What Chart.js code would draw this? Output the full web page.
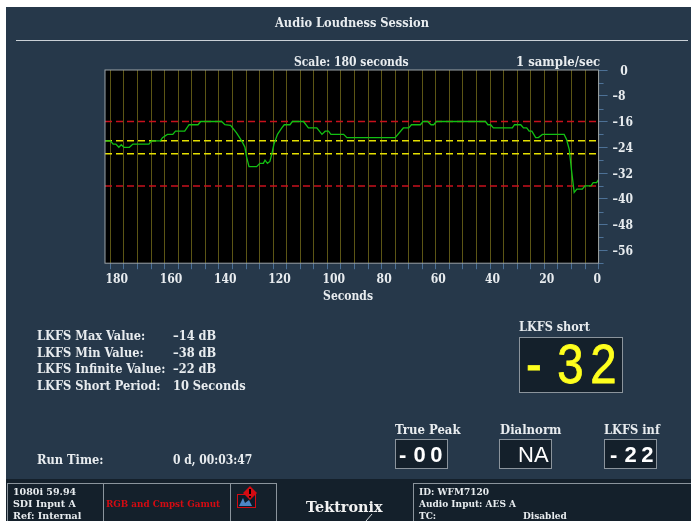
<!DOCTYPE html>
<html>
<head>
<meta charset="utf-8">
<title>Audio Loudness Session</title>
<script src="https://cdn.jsdelivr.net/npm/chart.js@4"></script>
<style>
  html, body { margin: 0; padding: 0; background: #fff; }
  #screen { position: relative; width: 691px; height: 521px; overflow: hidden; background: #fff;
    font-family: "DejaVu Serif Condensed", "DejaVu Serif", serif; font-weight: bold; color: #e8ecef; }
  #panel { position: absolute; left: 6px; top: 7px; width: 685px; height: 514px; background: #26384a; }
  #foot { position: absolute; left: 6px; top: 479px; width: 685px; height: 42px; background: #14202b; }
  canvas { position: absolute; left: 0; top: 0; }
  .t { position: absolute; white-space: nowrap; font-size: 12.7px; line-height: 14px; }
  .h { font-size: 13px; }
  .box { position: absolute; box-sizing: border-box; background: #14202b; border: 1px solid #8b949c; }
  .num { position: absolute; white-space: nowrap; font-family: "Liberation Sans", sans-serif; font-weight: normal; }
  .mid { top: 439px; font-size: 22px; line-height: 31px; font-weight: bold; color: #fff; letter-spacing: 4.5px; word-spacing: -8px; }
  .small { font-family: "DejaVu Serif", serif; font-size: 9.5px; line-height: 12px; }
  #rule { position: absolute; left: 16px; top: 40px; width: 672px; height: 1px; background: #c9d0d6; }
  svg { position: absolute; }
</style>
</head>
<body>
<div id="screen">
  <div id="panel"></div>
  <div id="foot"></div>
  <div id="rule"></div>
  <canvas id="chart" width="691" height="521"></canvas>

  <div class="t" style="left:275px;top:16px">Audio Loudness Session</div>
  <div class="t" style="left:294px;top:55px;font-size:12px">Scale: 180 seconds</div>
  <div class="t h" style="left:516px;top:55px">1 sample/sec</div>

  <div class="t" style="left:37px;top:329px">LKFS Max Value:</div>
  <div class="t" style="left:173px;top:329px">–14 dB</div>
  <div class="t" style="left:37px;top:346px">LKFS Min Value:</div>
  <div class="t" style="left:173px;top:346px">–38 dB</div>
  <div class="t" style="left:37px;top:362px">LKFS Infinite Value:</div>
  <div class="t" style="left:173px;top:362px">–22 dB</div>
  <div class="t" style="left:37px;top:379px">LKFS Short Period:</div>
  <div class="t" style="left:173px;top:379px">10 Seconds</div>
  <div class="t" style="left:37px;top:453px">Run Time:</div>
  <div class="t" style="left:173px;top:453px;font-size:12px">0 d, 00:03:47</div>

  <div class="t" style="left:519px;top:320px;font-size:12.5px">LKFS short</div>
  <div class="box" style="left:519px;top:337px;width:104px;height:56px"></div>
  <div class="num" style="left:526px;top:333px;font-size:55px;line-height:63px;color:#ffff1e;letter-spacing:7.8px;word-spacing:-13px;transform:scaleX(.86);transform-origin:left;-webkit-text-stroke:.8px #ffff1e">- 32</div>

  <div class="t h" style="left:395px;top:423px">True Peak</div>
  <div class="box" style="left:395px;top:439px;width:53px;height:30px"></div>
  <div class="num mid" style="left:399px">- 00</div>
  <div class="t h" style="left:500px;top:423px">Dialnorm</div>
  <div class="box" style="left:499px;top:439px;width:53px;height:30px"></div>
  <div class="num mid" style="left:518px;letter-spacing:0;font-weight:normal">NA</div>
  <div class="t h" style="left:604px;top:423px;font-size:12.7px">LKFS inf</div>
  <div class="box" style="left:604px;top:439px;width:53px;height:30px"></div>
  <div class="num mid" style="left:610px">- 22</div>

  <div class="box" style="left:7px;top:483px;width:97px;height:40px;background:none"></div>
  <div class="box" style="left:103px;top:483px;width:128px;height:40px;background:none"></div>
  <div class="box" style="left:230px;top:483px;width:47px;height:40px;background:none"></div>
  <div class="box" style="left:413px;top:483px;width:290px;height:40px;background:none"></div>
  <div class="t small" style="left:13px;top:486px">1080i 59.94<br>SDI Input A<br>Ref: Internal</div>
  <div class="t small" style="left:106px;top:498px;font-size:8.8px;color:#d40b12">RGB and Cmpst Gamut</div>
  <svg style="left:236px;top:485px" width="26" height="25" viewBox="0 0 26 25">
    <rect x="1.5" y="9.5" width="18" height="13" fill="#0c1a28" stroke="#d40b12"/>
    <path d="M3 21 L7 13 L9 18 L13 15 L16 21 Z" fill="#4d86c4"/>
    <path d="M14 1 L21 8 L14 15 L7 8 Z" fill="#d40b12"/>
    <path d="M14 4 V9 M14 11 V12.5" stroke="#000" stroke-width="2"/>
  </svg>
  <div class="t" style="left:306px;top:500px;font-family:'DejaVu Serif',serif;font-size:14.4px;color:#f2f2f2">Tektronix</div>
  <svg style="left:364px;top:513px" width="10" height="8"><line x1="8" y1="1" x2="2" y2="8" stroke="#d8dde0"/></svg>
  <div class="t small" style="left:419px;top:486px;font-size:9px">ID: WFM7120<br>Audio Input: AES A<br>TC:</div>
  <div class="t small" style="left:523px;top:510px;font-size:9px">Disabled</div>
</div>

<script>
const seconds = [182,180,179,178,176.9,176,175,173,171.7,165.8,164.9,161.6,160.8,159,157,156,152.6,151,147.7,146.7,139,137.8,135.7,133.5,131.6,130.4,129.8,128.9,126.1,124.9,123.6,123,122.1,121.2,120.4,119.7,118.4,116.8,115.9,113.8,112.9,108.8,107,103.9,102,100.8,99.6,98.7,94,92.8,75,72,70,69,65.7,64.7,63,61.8,60.8,59.8,41.7,40.8,39.8,38.8,31.8,31,28.7,27.7,26.5,25.6,24.6,23.2,22.2,20.7,12.7,11.8,10.8,10,9,8,6,5,2.8,2,0.7,0];
const lkfs = [-22,-22,-23,-23,-24,-23.2,-24,-24,-23,-23,-22,-22,-21,-20,-20,-19,-19,-17,-17,-16,-16,-17,-17.2,-19.5,-22,-24,-27,-30,-30,-29,-29,-28,-29,-28.4,-25.8,-23,-20,-18,-17,-17,-16,-16,-18,-18,-20,-19,-19,-20,-20,-21,-21,-18,-18,-17,-17,-16,-16,-17,-17,-16,-16,-17,-17,-18,-18,-17,-17,-18,-18,-19,-19,-21,-21,-20,-20,-21.6,-24.7,-31,-38,-37,-37,-36,-36,-35,-35,-34];
const limitsRed = [-16, -36];
const limitsYellow = [-22, -26];
const xTicks = [0,5,10,15,20,25,30,35,40,45,50,55,60,65,70,75,80,85,90,95,100,105,110,115,120,125,130,135,140,145,150,155,160,165,170,175,180];
const xLabels = [0,20,40,60,80,100,120,140,160,180];
const yTicks = [0,-8,-16,-24,-32,-40,-48,-56];
const yMinorTicks = [-4,-12,-20,-28,-36,-44,-52,-60];

const TICK = '#4d7196', TXT = '#e8ecef', FONT = '"DejaVu Serif Condensed", "DejaVu Serif", serif';

function limitLine(v, color) {
  return {
    data: [{ x: 182, y: v }, { x: 0, y: v }],
    borderColor: color, borderWidth: 1.5, borderDash: [7, 4],
    pointRadius: 0, order: 2,
  };
}

// fondo negro del plot, borde gris y marcas menores del eje y
const scopeFrame = {
  id: 'scopeFrame',
  beforeDraw(c) {
    const a = c.chartArea;
    c.ctx.fillStyle = '#000';
    c.ctx.fillRect(a.left, a.top, a.width, a.height);
  },
  afterDraw(c) {
    const a = c.chartArea, ctx = c.ctx;
    ctx.save();
    ctx.strokeStyle = TICK;
    ctx.lineWidth = 1;
    yMinorTicks.forEach((v) => {
      const y = Math.round(c.scales.y.getPixelForValue(v)) + 0.5;
      ctx.beginPath(); ctx.moveTo(a.right, y); ctx.lineTo(a.right + 5, y); ctx.stroke();
    });
    ctx.strokeStyle = '#9ca3a8';
    ctx.strokeRect(a.left, a.top, a.width, a.height);
    ctx.restore();
  },
};

new Chart(document.getElementById('chart').getContext('2d'), {
  type: 'line',
  data: {
    datasets: [
      ...limitsRed.map((v) => limitLine(v, '#c8101c')),
      ...limitsYellow.map((v) => limitLine(v, '#e6e000')),
      {
        label: 'LKFS short',
        data: seconds.map((s, i) => ({ x: s, y: lkfs[i] })),
        borderColor: '#12c012', borderWidth: 1.3, pointRadius: 0, order: 1,
      },
    ],
  },
  options: {
    responsive: false, animation: false,
    layout: { padding: { left: 105, top: 70, right: 53, bottom: 217 } },
    plugins: { legend: { display: false }, tooltip: { enabled: false } },
    scales: {
      x: {
        type: 'linear', reverse: true, min: 0, max: 182,
        afterBuildTicks: (s) => { s.ticks = xTicks.map((v) => ({ value: v })); },
        grid: { color: '#5c5515', tickColor: TICK, tickLength: 6, lineWidth: 1 },
        border: { display: false },
        ticks: {
          color: TXT, autoSkip: false, maxRotation: 0, padding: 3,
          align: 'start', labelOffset: -5,
          font: { family: FONT, size: 12, weight: 'bold' },
          callback: (v) => (xLabels.includes(v) ? String(v) : ''),
        },
        title: { display: true, text: 'Seconds\u00a0\u00a0', color: TXT, padding: { top: 0, bottom: 0 },
          font: { family: FONT, size: 12, weight: 'bold' } },
      },
      y: {
        position: 'right', min: -60, max: 0,
        afterBuildTicks: (s) => { s.ticks = yTicks.map((v) => ({ value: v })); },
        grid: { drawOnChartArea: false, tickColor: TICK, tickLength: 9 },
        border: { display: false },
        ticks: {
          color: TXT, padding: 5, autoSkip: false, labelOffset: 1.5,
          font: { family: FONT, size: 12, weight: 'bold' },
          callback: (v) => (v === 0 ? '\u2002\u20090' : '–' + Math.abs(v)),
        },
      },
    },
  },
  plugins: [scopeFrame],
});
</script>
</body>
</html>
